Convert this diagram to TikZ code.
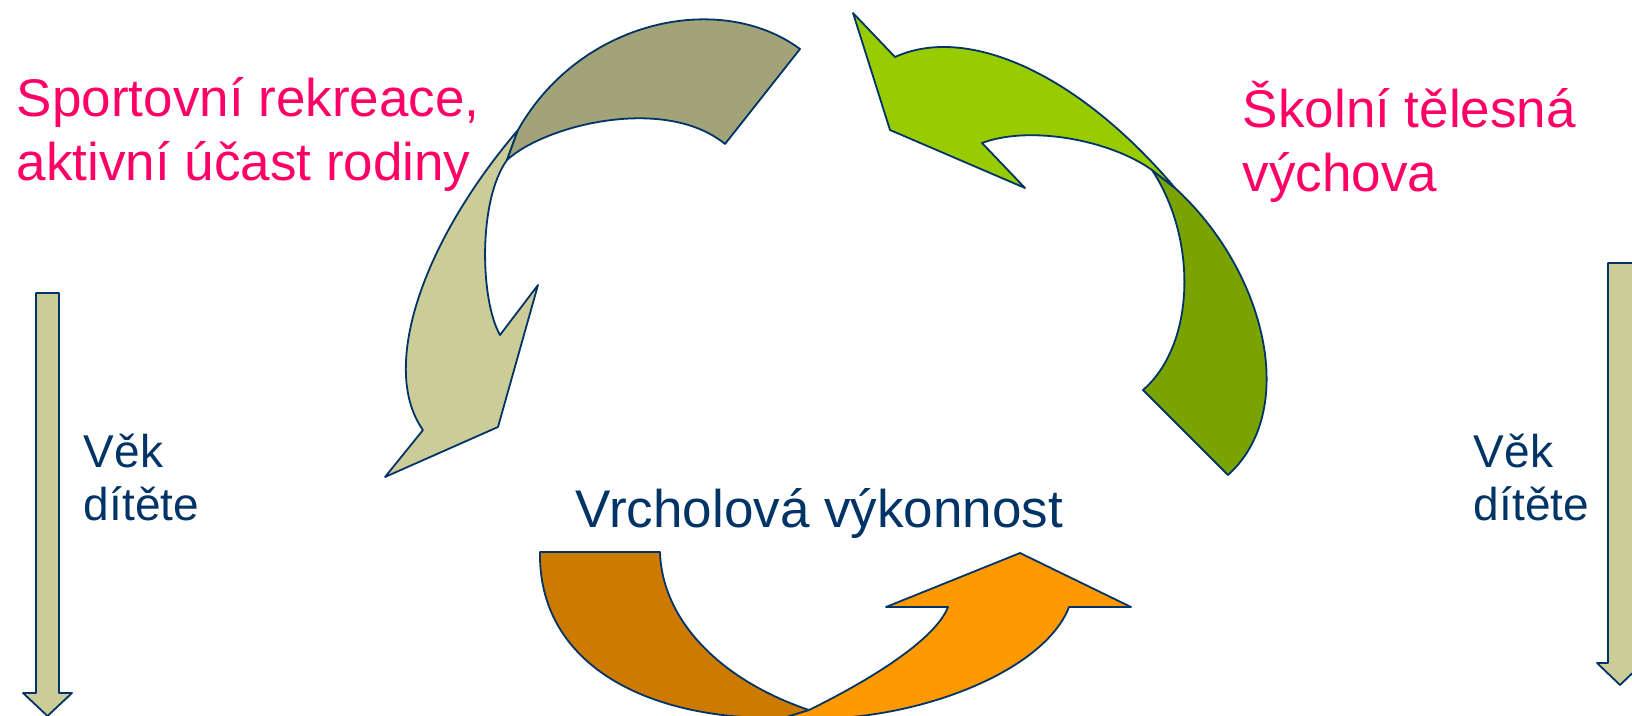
\documentclass[tikz,border=0pt]{standalone}
\usepackage{fontspec}
\setmainfont{Liberation Sans}
\usepackage{tikz}
\usetikzlibrary{positioning}
\definecolor{navy}{HTML}{003366}
\definecolor{rosepink}{HTML}{FF0066}
\definecolor{olivelight}{HTML}{CCCC99}
\definecolor{olivedark}{HTML}{A3A37A}
\definecolor{greenlight}{HTML}{99CC00}
\definecolor{greendark}{HTML}{7AA300}
\definecolor{orangelight}{HTML}{FF9900}
\definecolor{orangedark}{HTML}{CC7A00}
\tikzset{
    every picture/.style={line width=1.8pt},
    band/.style={draw=navy,line join=round},
    stagetext/.style={text=rosepink,font=\fontsize{53}{64}\selectfont,align=left,inner sep=0pt,anchor=base west},
    peaktext/.style={text=navy,font=\fontsize{53}{64}\selectfont,inner sep=0pt,anchor=base west},
    agetext/.style={text=navy,font=\fontsize{46}{53}\selectfont,align=left,inner sep=0pt,anchor=base west}
}

\begin{document}
\begin{tikzpicture}[x=1pt,y=-1pt]
        \useasboundingbox (0,0) rectangle (1632,715);

        % Age arrows
        \filldraw[band,fill=olivelight] (36,293) -- (59,293) -- (59,693) -- (72,693) -- (47.5,716) -- (23,693) -- (36,693) -- cycle;
        \filldraw[band,fill=olivelight] (1608,263) -- (1634,263) -- (1634,663) -- (1643,663) -- (1620,685) -- (1597,663) -- (1608,663) -- cycle;

        % Recreation arrow
        \filldraw[band,fill=olivelight] (518,130) .. controls (420,245) and (380,370) .. (423,430)
            -- (385,477) -- (498,427) -- (538,285) -- (500,335)
            .. controls (480,300) and (478,200) .. (507,160) -- cycle;
        \filldraw[band,fill=olivedark] (800,49) .. controls (720,-10) and (580,20) .. (518,130)
            -- (507,160) .. controls (545,125) and (665,95) .. (725,144) -- cycle;

        % School arrow
        \filldraw[band,fill=greendark] (1152,170) -- (1175,188)
            .. controls (1265,270) and (1300,410) .. (1228,475)
            -- (1143,390) .. controls (1195,345) and (1198,240) .. (1152,170) -- cycle;
        \filldraw[band,fill=greenlight] (853,13) -- (895,57)
            .. controls (965,25) and (1075,70) .. (1175,188)
            -- (1152,170) .. controls (1110,140) and (1030,125) .. (982,143)
            -- (1025,188) -- (890,130) -- cycle;

        % Peak arrow
        \filldraw[band,fill=orangedark] (540,552) -- (660,552)
            .. controls (662,620) and (720,680) .. (809,710)
            -- (790,718) .. controls (640,722) and (538,660) .. (540,552) -- cycle;
        \filldraw[band,fill=orangelight] (809,710) .. controls (870,680) and (935,640) .. (948,607)
            -- (886,607) -- (1020,553) -- (1131,607) -- (1069,607)
            .. controls (1045,670) and (920,722) .. (800,719) -- (780,719) -- cycle;

        % Labels
        \node[stagetext] (recreation) at (16,180) {Sportovní rekreace,\\aktivní účast rodiny};
        \node[stagetext] (school) at (1242,191) {Školní tělesná\\výchova};
        \node[peaktext] (peak) at (575,527) {Vrcholová výkonnost};
        \node[agetext] (ageleft) at (83,520) {Věk\\dítěte};
        \node[agetext] (ageright) at (1473,520) {Věk\\dítěte};
\end{tikzpicture}
\end{document}
